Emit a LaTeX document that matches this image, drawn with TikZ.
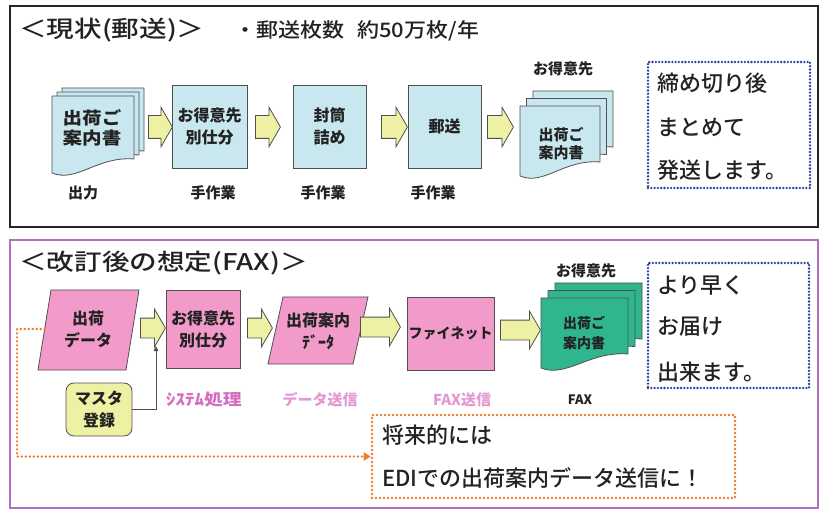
\documentclass[tikz,border=0pt]{standalone}
\usepackage{fontspec}
\setmainfont{Noto Sans CJK JP}
\newfontfamily\jpm{Noto Sans CJK JP Medium}
\usetikzlibrary{shapes.arrows,arrows.meta,calc}
\definecolor{lblue}{HTML}{C9E7EE}
\definecolor{pinkf}{HTML}{F29BCB}
\definecolor{yel}{HTML}{EEF1A4}
\definecolor{greenf}{HTML}{2FB68F}
\definecolor{bdotc}{HTML}{2C3F9E}
\definecolor{odotc}{HTML}{EE7A2B}
\definecolor{purp}{HTML}{B36FC0}
\definecolor{lpink}{HTML}{D46FC0}
\definecolor{llpink}{HTML}{E497D2}
\definecolor{boxgray}{HTML}{505050}
\definecolor{txt}{HTML}{222222}
\tikzset{
  base/.style={font=\bfseries\fontsize{16}{22}\selectfont, align=center, text=txt, inner sep=0pt},
  boxline/.style={draw=boxgray, line width=0.8pt},
  lab/.style={font=\bfseries\fontsize{15}{18}\selectfont, text=txt, inner sep=0pt},
  big/.style={font=\jpm\fontsize{22}{26}\selectfont, text=txt, inner sep=0pt, anchor=west},
  yarr/.style={single arrow, draw=boxgray, line width=0.8pt, fill=yel,
     single arrow head extend=8.5pt, single arrow tip angle=120,
     inner xsep=0pt, inner ysep=11pt, minimum height=#1, anchor=tail, minimum width=0pt},
  yarrs/.style={yarr=#1, inner ysep=9.5pt, single arrow head extend=9pt},
  bdot/.style={draw=bdotc, line width=2.6pt, line cap=round, dash pattern=on 0pt off 3.3pt},
  odot/.style={draw=odotc, line width=2.6pt, line cap=round, dash pattern=on 0pt off 4pt},
}
\newcommand\docpg[5]{\draw[boxline, fill=#5] (#1,#2) -- (#1+#3,#2) -- (#1+#3,#2+#4-14)
  .. controls (#1+0.55*#3,#2+#4-17) and (#1+0.3*#3,#2+#4+10) .. (#1,#2+#4) -- cycle;}
\newcommand\docstack[7]{\docpg{#1+2*#5}{#2-2*#6}{#3}{#4}{#7}\docpg{#1+#5}{#2-#6}{#3}{#4}{#7}\docpg{#1}{#2}{#3}{#4}{#7}}
\begin{document}
\begin{tikzpicture}[x=1pt,y=-1pt]
\useasboundingbox (0,0) rectangle (821,510);
\fill[white] (0,0) rectangle (821,510);
% panels
\draw[line width=2pt, draw=black!85] (10,6) rectangle (818,227);
\draw[line width=2pt, draw=purp] (10,240) rectangle (818,508);
% ---------- top panel ----------
\node[anchor=west, inner sep=0pt, text=txt, font=\jpm\fontsize{23}{26}\selectfont] (t1) at (19,30) {\scalebox{1.2}[1]{＜現状(郵送)＞}};
\node[anchor=west, inner sep=0pt, text=txt, font=\jpm\fontsize{20}{24}\selectfont] (t2) at (234,31) {\scalebox{1.1}[1]{・郵送枚数\hspace{0.6em}約50万枚/年}};
\docstack{52}{96}{82}{77}{5}{4}{lblue}
\node[base, font=\bfseries\fontsize{17}{20}\selectfont] (d1) at (92,128) {\scalebox{1.15}[1]{出荷ご}\\\scalebox{1.15}[1]{案内書}};
\node[boxline, fill=lblue, minimum width=75pt, minimum height=83pt, base] (b2) at (209.5,126.5) {お得意先\\別仕分};
\node[boxline, fill=lblue, minimum width=73pt, minimum height=83pt, base] (b3) at (329.5,126.5) {封筒\\詰め};
\node[boxline, fill=lblue, minimum width=73pt, minimum height=83pt, base] (b4) at (444.5,126.5) {郵送};
\docstack{520}{106}{80}{70}{6.5}{7.5}{lblue}
\node[base, font=\bfseries\fontsize{15}{18}\selectfont] (d2) at (561,144) {出荷ご\\案内書};
\node[lab] (c1) at (563,69) {お得意先};
\node[yarr=24pt] (a1) at (148,127) {};
\node[yarr=25pt] (a2) at (255,127) {};
\node[yarr=26pt] (a3) at (381,127) {};
\node[yarr=26pt] (a4) at (487,127) {};
\node[lab] (l1) at (83,193) {出力};
\node[lab] (l2) at (213,193) {手作業};
\node[lab] (l3) at (323,193) {手作業};
\node[lab] (l4) at (433,193) {手作業};
\node[bdot, minimum width=162pt, minimum height=126pt] (bd1) at (729,125) {};
\node[big] (s1) at (657,83) {締め切り後};
\node[big] (s2) at (657,127) {まとめて};
\node[big] (s3) at (657,170) {発送します。};
% ---------- bottom panel ----------
\node[anchor=west, inner sep=0pt, text=txt, font=\jpm\fontsize{23}{26}\selectfont] (t3) at (19,263) {\scalebox{1.2}[1]{＜改訂後の想定(FAX)＞}};
\draw[boxline, fill=pinkf] (51,290) -- (139,290) -- (126,370) -- (38,370) -- cycle;
\coordinate (p1w) at (44.7,329);
\node[base] (p1) at (88,329) {出荷\\データ};
\node[boxline, fill=pinkf, minimum width=74pt, minimum height=78pt, base] (b5) at (203,329) {お得意先\\別仕分};
\draw[boxline, fill=pinkf] (283,297) -- (368,297) -- (353,364) -- (268,364) -- cycle;
\node[base] (p2) at (318,331) {出荷案内\\ﾃﾞｰﾀ};
\node[boxline, fill=pinkf, minimum width=87pt, minimum height=73pt, base, font=\bfseries\fontsize{14}{18}\selectfont] (b6) at (450.5,333.5) {ファイネット};
\docstack{541}{298}{87}{70}{7}{7.5}{greenf}
\node[base, font=\bfseries\fontsize{14}{20}\selectfont] (d3) at (584,333) {出荷ご\\案内書};
\node[lab] (c2) at (586,271) {お得意先};
\node[yarrs=25pt] (a5) at (140,328) {};
\node[yarrs=25pt] (a6) at (247,328) {};
\node[yarrs=40pt] (a7) at (360,327) {};
\node[yarrs=40pt] (a8) at (500,330) {};
\node[boxline, fill=yel, rounded corners=8pt, minimum width=66pt, minimum height=53pt, base] (m) at (99,409.5) {マスタ\\登録};
\coordinate (mt) at (156,346);
\draw[boxline, -{Triangle[length=5pt,width=4.5pt]}] (m.east) -| (mt);
\node[lab, text=lpink, font=\bfseries\fontsize{16}{18}\selectfont] (l5) at (204,400) {\scalebox{1.18}[1]{ｼｽﾃﾑ処理}};
\node[lab, text=llpink] (l6) at (320,400) {データ送信};
\node[lab, text=llpink] (l7) at (462,400) {FAX送信};
\node[lab, font=\bfseries\fontsize{13}{16}\selectfont] (l8) at (580,400) {FAX};
\node[bdot, minimum width=161pt, minimum height=125pt] (bd2) at (728.5,325.5) {};
\node[big] (s4) at (657,285) {より早く};
\node[big] (s5) at (657,327) {お届け};
\node[big] (s6) at (657,372) {出来ます。};
\node[odot, minimum width=363pt, minimum height=83pt] (ob) at (553.5,456.5) {};
\node[big] (e1) at (382,435) {将来的には};
\node[big] (e2) at (382,478) {EDIでの出荷案内データ送信に！};
\draw[odot, -{Triangle[length=7pt,width=8pt]}] (p1w) -- (17,329) |- (ob.west);
\end{tikzpicture}
\end{document}
